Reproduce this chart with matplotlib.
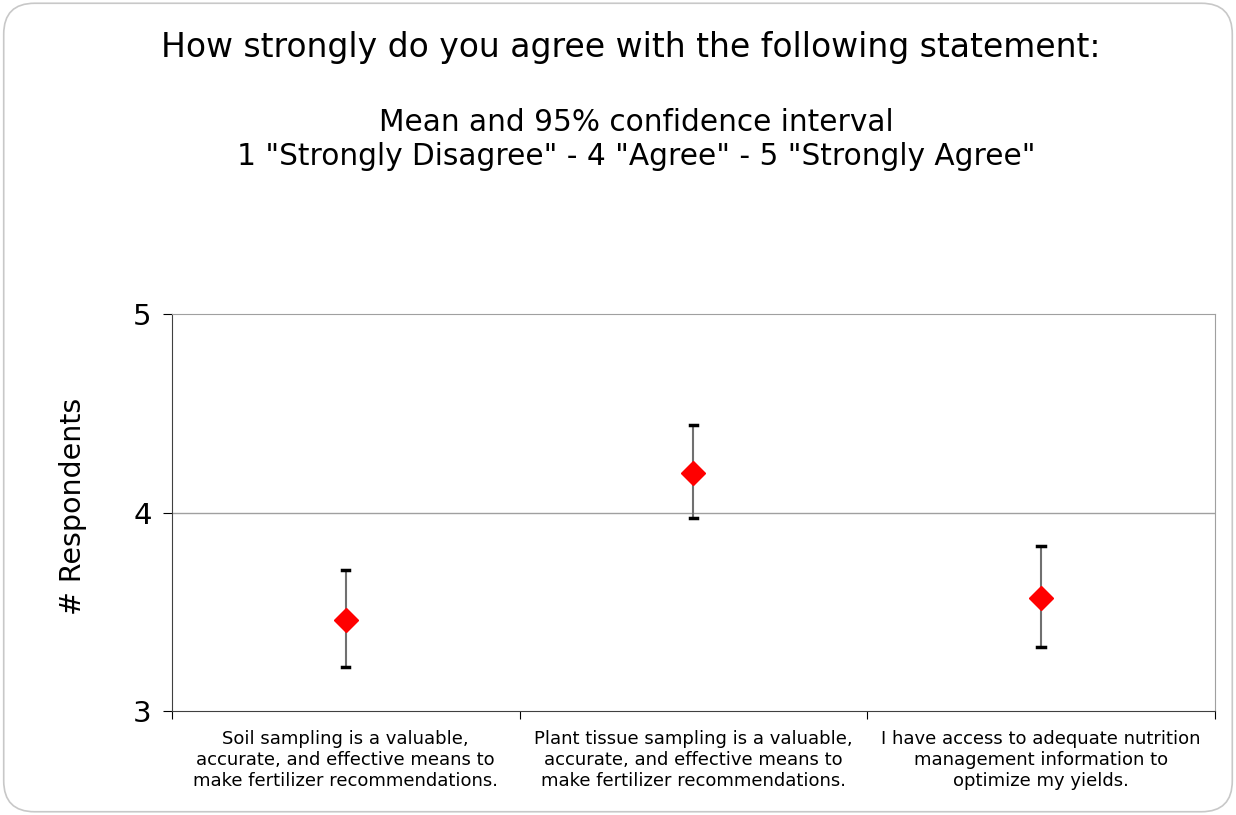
import numpy as np
import matplotlib.pyplot as plt
from matplotlib.patches import FancyBboxPatch

categories = [
    "Soil sampling is a valuable,\naccurate, and effective means to\nmake fertilizer recommendations.",
    "Plant tissue sampling is a valuable,\naccurate, and effective means to\nmake fertilizer recommendations.",
    "I have access to adequate nutrition\nmanagement information to\noptimize my yields.",
]
means = [3.46, 4.20, 3.57]
ci_low = [3.22, 3.97, 3.32]
ci_high = [3.71, 4.44, 3.83]

fig = plt.figure(figsize=(12.36, 8.15), dpi=100)
ax = fig.add_axes([0.139, 0.1276, 0.844, 0.4871])

# rounded outer frame
frame = FancyBboxPatch((0.003, 0.004), 0.994, 0.992, boxstyle="round,pad=0,rounding_size=0.025",
                       transform=fig.transFigure, fill=False, edgecolor="#c8c8c8", linewidth=1.2,
                       mutation_aspect=1236 / 815)
fig.patches.append(frame)

x = np.arange(len(categories))
m = np.array(means)
yerr = [m - np.array(ci_low), np.array(ci_high) - m]
ax.errorbar(x, m, yerr=yerr, fmt="none", ecolor="#707070", elinewidth=1.5, capsize=0, zorder=3)
# small black caps
for xi, lo, hi in zip(x, ci_low, ci_high):
    ax.plot([xi - 0.011, xi + 0.011], [lo, lo], color="black", lw=2.5, zorder=4)
    ax.plot([xi - 0.011, xi + 0.011], [hi, hi], color="black", lw=2.5, zorder=4)
ax.plot(x, m, "D", color="red", markersize=12, zorder=5)

ax.set_xlim(-0.5, 2.5)
ax.set_ylim(3, 5)
ax.set_yticks([3, 4, 5])
ax.tick_params(axis="y", labelsize=21, length=6.5, pad=8, direction="out")
ax.set_xticks([-0.5, 0.5, 1.5, 2.5])
ax.set_xticklabels([])
ax.set_xticks(x, minor=True)
ax.set_xticklabels(categories, minor=True, fontsize=13, linespacing=1.2)
ax.tick_params(axis="x", which="major", length=6)
ax.tick_params(axis="x", which="minor", length=0, pad=14)
ax.axhline(4, color="#a0a0a0", lw=1, zorder=1)

ax.spines["top"].set_color("#a0a0a0")
ax.spines["right"].set_color("#a0a0a0")
ax.spines["left"].set_color("#404040")
ax.spines["bottom"].set_color("#404040")
ax.set_ylabel("# Respondents", fontsize=20.5)
ax.yaxis.set_label_coords(-0.081, 0.516)

fig.text(0.51, 0.942, "How strongly do you agree with the following statement:", ha="center",
         va="center", fontsize=23.8)
fig.text(0.515, 0.829, 'Mean and 95% confidence interval\n1 "Strongly Disagree" - 4 "Agree" - 5 "Strongly Agree"',
         ha="center", va="center", fontsize=21.3, linespacing=1.2)

plt.savefig("out.png", dpi=100)
